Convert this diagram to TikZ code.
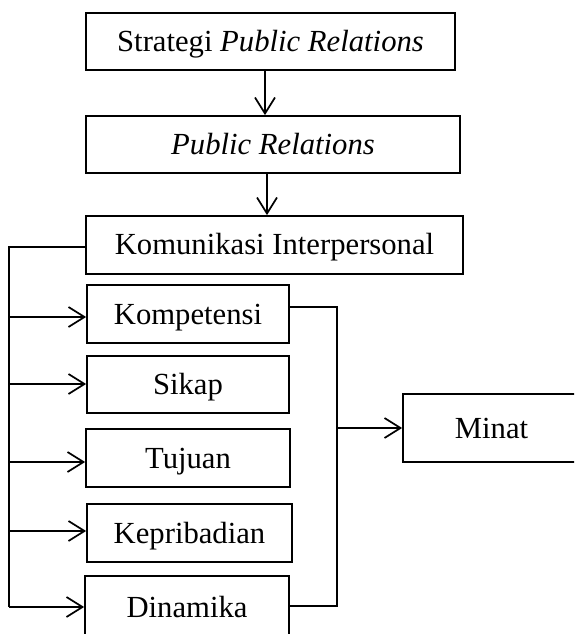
\documentclass[tikz,border=0pt]{standalone}
\usepackage{fontspec}
\setmainfont{Liberation Serif}
\usetikzlibrary{arrows.meta}
\begin{document}
\begin{tikzpicture}[x=0.75pt,y=-0.75pt,
  box/.style={draw, line width=1.3pt, inner sep=0pt, align=center, text height=15pt, text depth=0pt, font=\fontsize{23}{27}\selectfont},
  link/.style={line width=1.3pt},
  arr/.style={line width=1.3pt, -{Straight Barb[length=12pt,width=15pt,line width=1.3pt]}}]
\useasboundingbox (0,0) rectangle (574,634);
\clip (0,0) rectangle (574,634);
\node[box, minimum width=276.75pt, minimum height=42.75pt] (b1) at (270.5,41.5) {Strategi \textit{Public Relations}};
\node[box, minimum width=280.5pt, minimum height=42.75pt] (b2) at (273,144.5) {\textit{Public Relations}};
\node[box, minimum width=282.75pt, minimum height=43.5pt] (b3) at (274.5,245) {Komunikasi Interpersonal};
\node[box, minimum width=151.5pt, minimum height=43.5pt] (k1) at (188,314) {Kompetensi};
\node[box, minimum width=151.5pt, minimum height=42.75pt] (k2) at (188,384.5) {Sikap};
\node[box, minimum width=153pt, minimum height=43.5pt] (k3) at (188,458) {Tujuan};
\node[box, minimum width=153.75pt, minimum height=43.5pt] (k4) at (189.5,533) {Kepribadian};
\node[box, minimum width=153pt, minimum height=46.5pt] (k5) at (187,607) {Dinamika};
\node[box, minimum width=132.75pt, minimum height=51pt] (mn) at (491.5,428) {Minat};
% vertical arrows
\coordinate (a1) at (265,0);
\coordinate (a2) at (267,0);
\draw[arr] (b1.south -| a1) -- (b2.north -| a1);
\draw[arr] (b2.south -| a2) -- (b3.north -| a2);
% left bus
\coordinate (lbtop) at (9,247);
\coordinate (lbbot) at (9,607);
\draw[link] (b3.west |- lbtop) -- (lbtop) -- (lbbot);
\draw[arr] (9,317) -- (k1.west |- 0,317);
\draw[arr] (9,384) -- (k2.west |- 0,384);
\draw[arr] (9,462) -- (k3.west |- 0,462);
\draw[arr] (9,531) -- (k4.west |- 0,531);
\draw[arr] (lbbot) -- (k5.west |- lbbot);
% right bus
\coordinate (rtop) at (337,307);
\coordinate (rbot) at (337,606);
\coordinate (rmid) at (337,428);
\draw[link] (k1.east |- rtop) -- (rtop) -- (rbot) -- (k5.east |- rbot);
\draw[arr] (rmid) -- (mn.west |- rmid);
\end{tikzpicture}
\end{document}
